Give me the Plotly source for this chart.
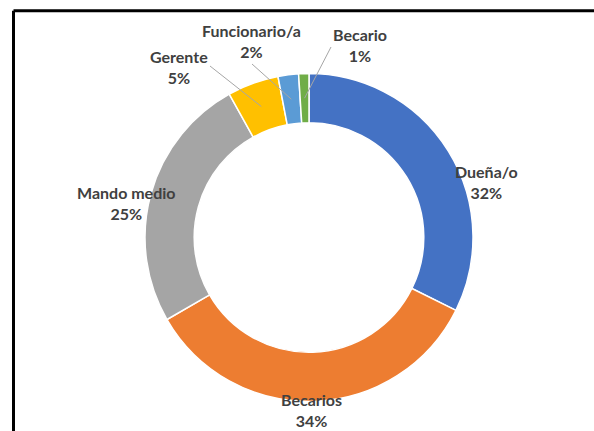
import math
import plotly.graph_objects as go

# ---- data ----
labels = ["Dueña/o", "Becarios", "Mando medio", "Gerente", "Funcionario/a", "Becario"]
values = [32, 34, 25, 5, 2, 1]
colors = ["#4472C4", "#ED7D31", "#A5A5A5", "#FFC000", "#5B9BD5", "#70AD47"]

# ---- layout geometry (pixels) ----
W, H = 594, 431
cx, cy, R = 309, 237.5, 164
HOLE = 0.70

# label block centres (pixels) and leader-line starts (None = no leader)
label_pos = [(486, 182), (311, 410), (126, 203), (179, 67), (251, 41), (360, 45)]
leader_start = [None, None, None, (210, 66), (252, 64), (331, 47)]


def px(x):
    return x / W


def py(y):
    return 1 - y / H


total = sum(values)
pcts = [round(v / total * 100) for v in values]

fig = go.Figure(
    go.Pie(
        labels=labels,
        values=values,
        hole=HOLE,
        sort=False,
        direction="clockwise",
        rotation=0,
        marker=dict(colors=colors, line=dict(color="white", width=1.5)),
        textinfo="none",
        hoverinfo="label+percent",
        showlegend=False,
        domain=dict(x=[px(cx - R), px(cx + R)], y=[py(cy + R), py(cy - R)]),
    )
)

shapes = [
    # chart frame (top and left edges visible)
    dict(type="line", xref="paper", yref="paper", x0=px(13.5), y0=py(10.7), x1=px(W + 5), y1=py(10.7),
         line=dict(color="black", width=3)),
    dict(type="line", xref="paper", yref="paper", x0=px(13.5), y0=py(10.7), x1=px(13.5), y1=py(H + 5),
         line=dict(color="black", width=3)),
]

annotations = []
cum = 0
rmid = R * (1 + HOLE) / 2
for lab, v, p, pos, ls in zip(labels, values, pcts, label_pos, leader_start):
    mid = (cum + v / 2) / total * 2 * math.pi
    cum += v
    if ls is not None:
        ex = cx + rmid * math.sin(mid)
        ey = cy - rmid * math.cos(mid)
        shapes.append(dict(type="line", xref="paper", yref="paper",
                           x0=px(ls[0]), y0=py(ls[1]), x1=px(ex), y1=py(ey),
                           line=dict(color="#A6A6A6", width=1)))
    annotations.append(dict(
        x=px(pos[0]), y=py(pos[1]), xref="paper", yref="paper",
        text=f"<b>{lab}</b><br><b>{p}%</b>", showarrow=False,
        xanchor="center", yanchor="middle", align="center",
        font=dict(family="Lato", size=16, color="#404040"),
    ))

fig.update_layout(
    width=W, height=H,
    margin=dict(l=0, r=0, t=0, b=0),
    paper_bgcolor="white", plot_bgcolor="white",
    shapes=shapes, annotations=annotations,
)

fig.write_html("out.html", config={"displayModeBar": False},
               post_script="document.body.style.margin='0';")
